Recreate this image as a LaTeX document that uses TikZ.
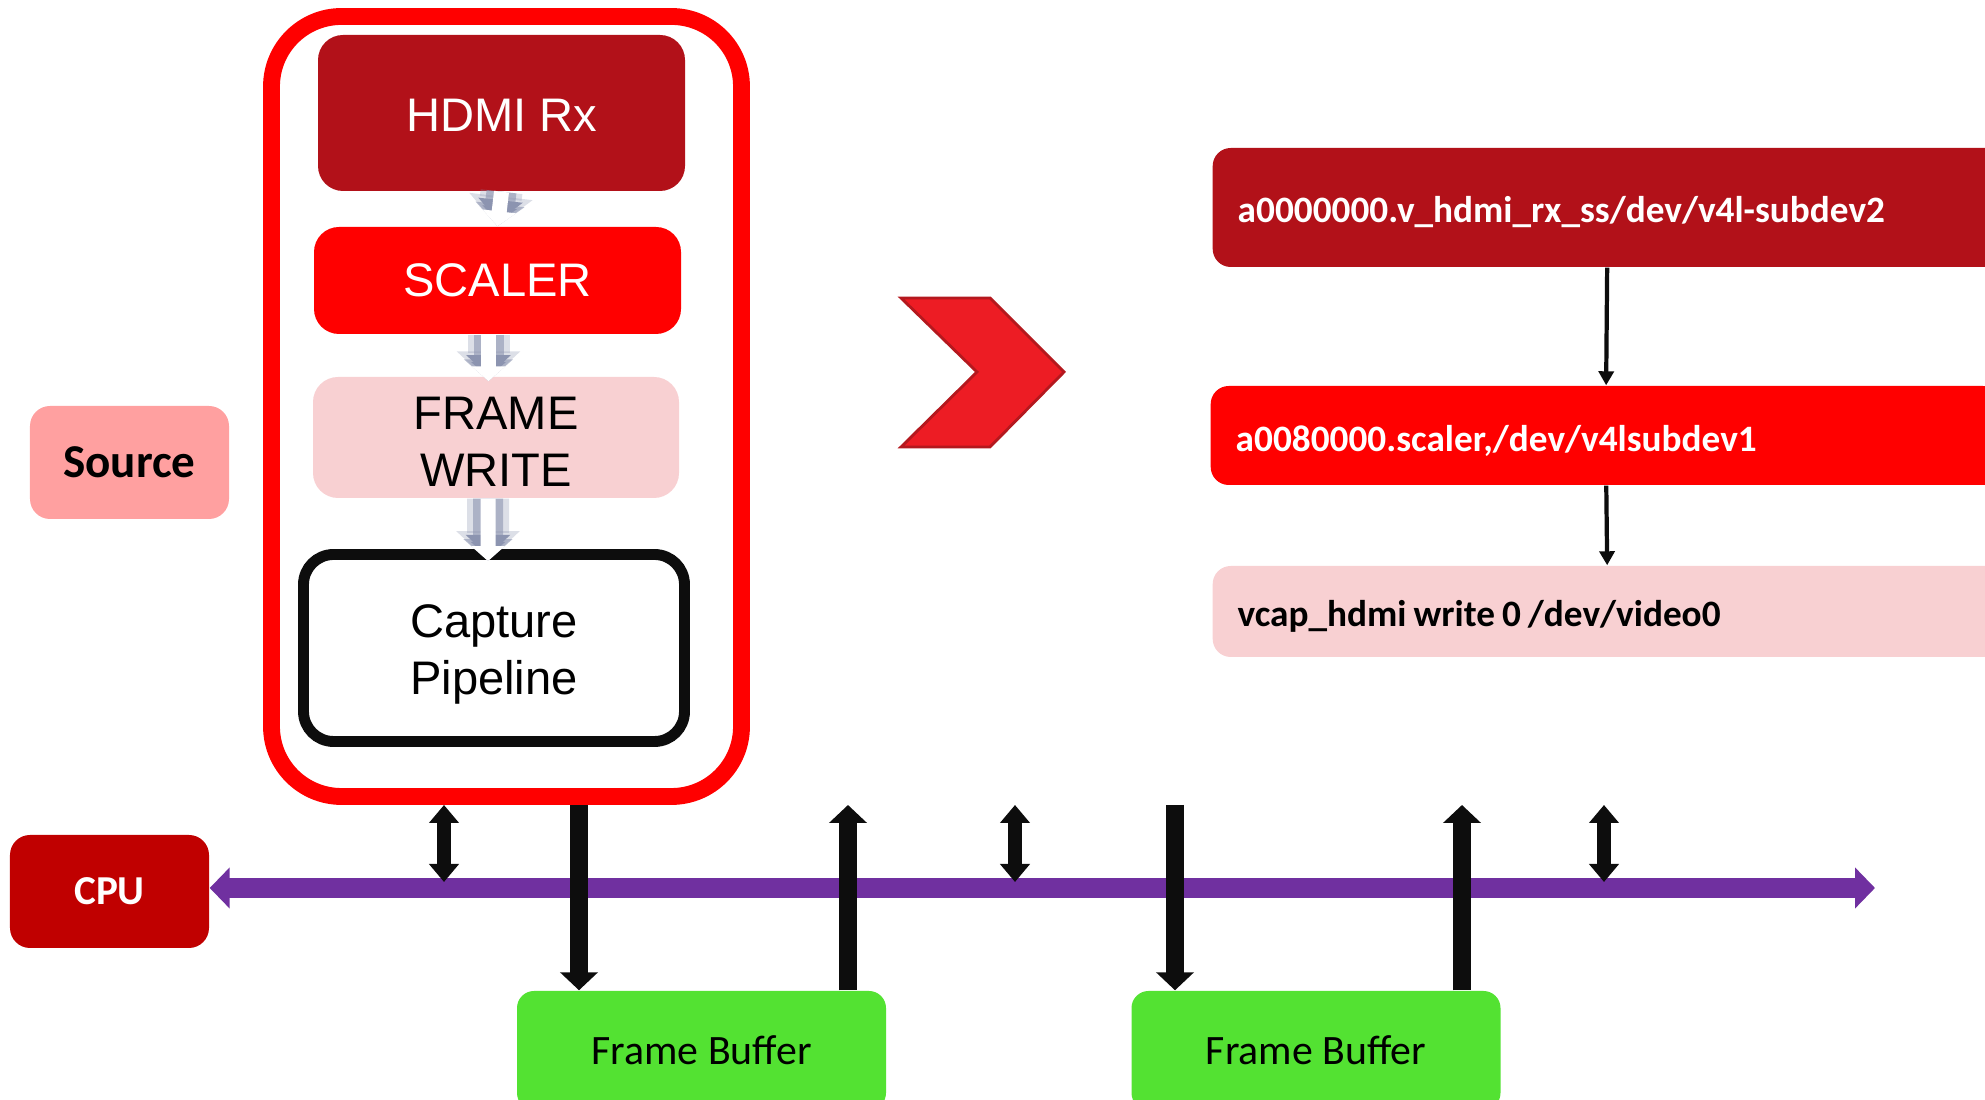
\documentclass[tikz,border=0pt]{standalone}
\usepackage{fontspec}
\setmainfont{Liberation Sans}
\newfontfamily\calibri{Carlito}
\usepackage{xcolor}
\usepackage{tikz}
\usetikzlibrary{arrows.meta, positioning}

\definecolor{hdmired}{RGB}{178,17,25}
\definecolor{brightred}{RGB}{255,0,0}
\definecolor{framepink}{RGB}{248,208,210}
\definecolor{sourcepink}{RGB}{255,160,160}
\definecolor{cpured}{RGB}{192,0,0}
\definecolor{buspurple}{RGB}{112,48,160}
\definecolor{fbgreen}{RGB}{83,226,50}
\definecolor{chevred}{RGB}{237,28,36}
\definecolor{chevedge}{RGB}{180,24,30}
\definecolor{shadowgray}{RGB}{140,148,176}
\definecolor{inkblack}{RGB}{13,13,13}

% lower a line of text without changing the node size
\newcommand{\lowered}[2]{\raisebox{-#1}[\height][\depth]{#2}}
% device node text, with narrow word spaces
\newcommand{\devtext}[1]{\raisebox{-0.05cm}[\height][\depth]{\spaceskip=2pt\relax #1}}

\begin{document}
\begin{tikzpicture}[
        block/.style={rectangle, rounded corners=0.25cm, minimum width=3.67cm, align=center, font=\fontsize{13.4}{16.2}\selectfont},
        tagbox/.style={rectangle, rounded corners=0.2cm, minimum width=1.99cm, minimum height=1.13cm, font=\calibri\bfseries\fontsize{13.4}{15}\selectfont},
        devbox/.style={rectangle, rounded corners=0.18cm, anchor=west, text width=7.4cm, inner xsep=0.25cm, align=left, font=\calibri\bfseries\fontsize{10.6}{12}\selectfont},
        bufbox/.style={rectangle, rounded corners=0.17cm, fill=fbgreen, minimum width=3.69cm, minimum height=1.19cm, font=\calibri\fontsize{11.9}{14}\selectfont},
        flowhalo/.style={draw=shadowgray, draw opacity=0.3, line width=0.42cm, -{Triangle[width=0.62cm,length=0.3cm]}},
        flowshadow/.style={draw=shadowgray, draw opacity=0.6, line width=0.3cm, -{Triangle[width=0.48cm,length=0.22cm]}},
        flowarrow/.style={draw=white, line width=0.15cm, -{Triangle[width=0.33cm,length=0.15cm]}},
        busarrow/.style={draw=inkblack, line width=0.18cm, -{Triangle[width=0.37cm,length=0.18cm]}},
        dblarrow/.style={draw=inkblack, line width=0.14cm, {Triangle[width=0.29cm,length=0.18cm]}-{Triangle[width=0.29cm,length=0.18cm]}},
        devarrow/.style={draw=inkblack, line width=1.2pt, -{Triangle[width=0.15cm,length=0.14cm]}},
        bus/.style={draw=buspurple, line width=0.2cm, {Triangle[width=0.4cm,length=0.2cm]}-{Triangle[width=0.4cm,length=0.2cm]}}
    ]
    \useasboundingbox (0,0) rectangle (19.85,11);
    \clip (0,0) rectangle (19.85,11);

    % Capture pipeline
    \node[draw=brightred, line width=4.8pt, rounded corners=0.7cm, minimum width=4.70cm, minimum height=7.80cm] (pipeline) at (5.065,6.935) {};
    \node[block, fill=hdmired, text=white, minimum height=1.56cm] (hdmi) at (5.015,9.87) {\lowered{0.025cm}{HDMI Rx}};
    \node[block, fill=brightred, text=white, minimum height=1.07cm] (scaler) at (4.975,8.195) {SCALER};
    \node[block, fill=framepink, minimum width=3.66cm, minimum height=1.21cm] (frame) at (4.96,6.625) {\lowered{0.04cm}{FRAME}\\\lowered{0.04cm}{WRITE}};
    \node[block, draw=inkblack, line width=3.1pt, rounded corners=0.3cm, minimum width=3.81cm, minimum height=1.87cm] (capture) at (4.94,4.52) {\lowered{0.06cm}{Capture}\\\lowered{0.06cm}{Pipeline}};
    \foreach \s in {flowhalo, flowshadow, flowarrow} {
        \draw[\s] (hdmi.south) -- (scaler.north);
        \draw[\s] ([xshift=-0.09cm]scaler.south) -- ([xshift=-0.09cm, yshift=-0.05cm]scaler.south |- frame.north);
        \draw[\s] ([xshift=-0.08cm]frame.south) -- ([xshift=-0.06cm, yshift=-0.12cm]capture.north);
    }

    % Source and CPU
    \node[tagbox, fill=sourcepink] (source) at (1.295,6.375) {Source};
    \node[tagbox, fill=cpured, text=white, font=\calibri\bfseries\fontsize{11.7}{14}\selectfont] (cpu) at (1.095,2.085) {CPU};

    % Chevron
    \draw[fill=chevred, draw=chevedge, line width=0.8pt] (9.01,8.02) -- (9.90,8.02) -- (10.64,7.28) -- (9.90,6.53) -- (9.01,6.53) -- (9.77,7.28) -- cycle;

    % Device nodes
    \node[devbox, fill=hdmired, text=white, minimum height=1.19cm] (rxdev) at (12.12,8.925) {\devtext{a0000000.v\_hdmi\_rx\_ss/dev/v4l-subdev2}};
    \node[devbox, fill=brightred, text=white, minimum height=0.99cm] (scdev) at (12.10,6.645) {\devtext{a0080000.scaler,/dev/v4lsubdev1}};
    \node[devbox, fill=framepink, minimum height=0.91cm] (vcapdev) at (12.12,4.885) {\devtext{vcap\_hdmi write 0 /dev/video0}};
    \draw[devarrow] (rxdev) -- (scdev);
    \draw[devarrow] (scdev) -- (vcapdev);

    % Frame buffers
    \node[bufbox] (fb1) at (7.015,0.495) {Frame Buffer};
    \node[bufbox] (fb2) at (13.16,0.495) {Frame Buffer};

    % Bus
    \coordinate (busend) at (18.75,2.12);
    \draw[bus] (cpu.east |- busend) -- (busend);

    \foreach \x [count=\i] in {4.44,10.15,16.04} {
        \coordinate (dtop\i) at (\x,2.95);
        \coordinate (dbot\i) at (\x,2.18);
        \draw[dblarrow] (dtop\i) -- (dbot\i);
    }
    \coordinate (wr1) at (5.79,2.95);
    \coordinate (rd1) at (8.48,2.95);
    \coordinate (wr2) at (11.75,2.95);
    \coordinate (rd2) at (14.62,2.95);
    \draw[busarrow] (wr1) -- (wr1 |- fb1.north);
    \draw[busarrow] (rd1 |- fb1.north) -- (rd1);
    \draw[busarrow] (wr2) -- (wr2 |- fb2.north);
    \draw[busarrow] (rd2 |- fb2.north) -- (rd2);

\end{tikzpicture}
\end{document}
